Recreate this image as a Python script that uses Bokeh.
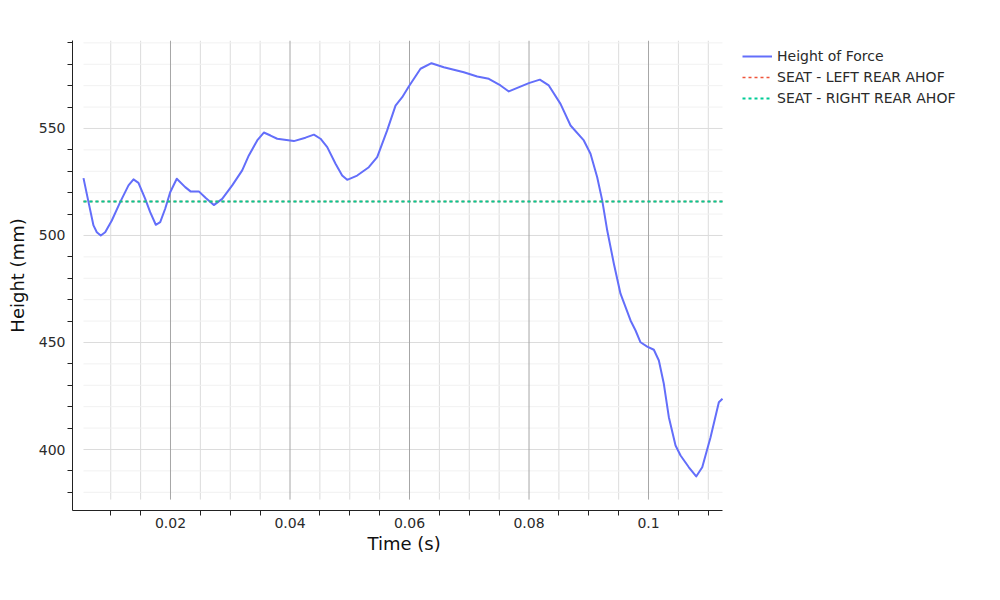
from bokeh.plotting import figure
from bokeh.models import Range1d, FixedTicker, Legend, LegendItem, NumeralTickFormatter, Title
from bokeh.embed import file_html
from bokeh.resources import INLINE

# ---- data ----
time_s = [0.00544, 0.00628, 0.00711, 0.00767, 0.00833, 0.00907, 0.01018, 0.01158, 0.01297,
          0.01381, 0.01464, 0.01577, 0.0166, 0.01754, 0.01828, 0.01911, 0.01995, 0.02105,
          0.02246, 0.02335, 0.02474, 0.02586, 0.02725, 0.02865, 0.03033, 0.0320, 0.03311,
          0.03451, 0.03562, 0.03674, 0.03786, 0.04064, 0.04259, 0.0440, 0.0451, 0.04623,
          0.04762, 0.04873, 0.04957, 0.05124, 0.05319, 0.05459, 0.05626, 0.05766, 0.05878,
          0.05988, 0.06184, 0.06368, 0.06574, 0.06741, 0.06909, 0.07133, 0.07327, 0.07523,
          0.07662, 0.07997, 0.08181, 0.08331, 0.08527, 0.08695, 0.08917, 0.09029, 0.09141,
          0.09225, 0.09309, 0.0942, 0.09531, 0.09699, 0.09783, 0.09866, 0.09978, 0.10089,
          0.10173, 0.10256, 0.1034, 0.10452, 0.10536, 0.10675, 0.10798, 0.10899, 0.11038,
          0.11177, 0.11238]
height_mm = [526.8, 515.6, 504.7, 501.5, 500.0, 501.5, 507.0, 515.6, 523.4,
             526.2, 524.6, 517.1, 510.9, 505.0, 506.2, 512.5, 520.2, 526.5,
             522.6, 520.6, 520.6, 517.6, 514.2, 517.1, 523.4, 530.4, 537.4,
             544.4, 548.1, 546.7, 545.2, 544.1, 545.7, 547.1, 545.2, 541.3,
             533.5, 528.0, 526.0, 528.0, 531.9, 536.6, 549.1, 560.7, 564.6,
             569.6, 577.9, 580.5, 578.6, 577.4, 576.3, 574.3, 573.2, 570.1,
             567.3, 571.2, 572.8, 570.1, 561.5, 551.4, 544.4, 538.2, 527.2,
             516.4, 502.3, 486.8, 472.8, 460.3, 455.6, 450.1, 448.1, 446.6,
             441.6, 430.7, 415.1, 401.9, 397.2, 391.7, 387.4, 391.7, 405.7,
             422.1, 423.7]
ahof_left_mm = 515.9
ahof_right_mm = 515.9

series_names = ["Height of Force", "SEAT - LEFT REAR AHOF", "SEAT - RIGHT REAR AHOF"]

x_major_ticks = [0.02, 0.04, 0.06, 0.08, 0.1]
x_minor_ticks = [0.01, 0.015, 0.025, 0.03, 0.035, 0.045, 0.05, 0.055, 0.065, 0.07, 0.075,
                 0.085, 0.09, 0.095, 0.105, 0.11]
y_major_ticks = [400, 450, 500, 550]
y_minor_ticks = [380, 390, 410, 420, 430, 440, 460, 470, 480, 490, 510, 520, 530, 540,
                 560, 570, 580, 590]

x_axis_range = (0.0036, 0.11238)     # extent of the drawn x axis
x_view_end = 0.15723                 # frame continues to the right to hold the legend
y_axis_range = (371.5, 591.1)
x_plot_start = 0.00544
y_plot_start = 376.6

FONT = "DejaVu Sans"

p = figure(width=990, height=590,
           x_range=Range1d(x_axis_range[0], x_view_end), y_range=Range1d(*y_axis_range),
           output_backend="svg", toolbar_location=None,
           min_border_left=72, min_border_right=0, min_border_top=40, min_border_bottom=80)
p.outline_line_color = None
p.background_fill_color = "white"
p.border_fill_color = "white"
p.grid.visible = False

# axes
p.xaxis.bounds = x_axis_range
p.xaxis.ticker = FixedTicker(ticks=x_major_ticks, minor_ticks=x_minor_ticks)
p.yaxis.ticker = FixedTicker(ticks=y_major_ticks, minor_ticks=y_minor_ticks)
p.xaxis.formatter = NumeralTickFormatter(format="0.[00]")
for ax in (p.xaxis[0], p.yaxis[0]):
    ax.axis_line_color = "#222222"
    ax.axis_line_width = 1
    ax.major_tick_line_color = None
    ax.major_tick_out = 0
    ax.major_tick_in = 0
    ax.minor_tick_line_color = "#222222"
    ax.minor_tick_out = 5
    ax.minor_tick_in = 0
    ax.major_label_text_font = FONT
    ax.major_label_text_font_size = "14px"
    ax.major_label_text_color = "#2a2a2a"
    ax.axis_label_text_font = FONT
    ax.axis_label_text_font_size = "18px"
    ax.axis_label_text_font_style = "normal"
    ax.axis_label_text_color = "#111111"
p.yaxis.axis_label = "Height (mm)"
p.xaxis.major_label_standoff = 2
p.yaxis.major_label_standoff = 2
p.yaxis.axis_label_standoff = 8

# x axis title, centred under the plotting area rather than the whole frame
p.add_layout(Title(text="Time (s)", align="left", offset=295, vertical_align="top",
                   standoff=5, text_font=FONT, text_font_size="18px",
                   text_font_style="normal", text_color="#111111"), "below")

# grid lines, limited to the plotting area (axes sit slightly apart from it)
y_top = y_axis_range[1]
x_end = time_s[-1]
p.segment(x0=x_minor_ticks, y0=[y_plot_start] * len(x_minor_ticks),
          x1=x_minor_ticks, y1=[y_top] * len(x_minor_ticks),
          line_color="#dcdcdc", line_width=1)
p.segment(x0=[x_plot_start] * len(y_minor_ticks), y0=y_minor_ticks,
          x1=[x_end] * len(y_minor_ticks), y1=y_minor_ticks,
          line_color="#f1f1f1", line_width=1)
p.segment(x0=[x_plot_start] * len(y_major_ticks), y0=y_major_ticks,
          x1=[x_end] * len(y_major_ticks), y1=y_major_ticks,
          line_color="#dcdcdc", line_width=1)
p.segment(x0=x_major_ticks, y0=[y_plot_start] * len(x_major_ticks),
          x1=x_major_ticks, y1=[y_top] * len(x_major_ticks),
          line_color="#a6a6a6", line_width=1)

r_force = p.line(time_s, height_mm, line_color="#636efa", line_width=2, line_join="round")
r_left = p.line([time_s[0], time_s[-1]], [ahof_left_mm, ahof_left_mm],
                line_color="#ef553b", line_width=1.5, line_dash="3 3")
r_right = p.line([time_s[0], time_s[-1]], [ahof_right_mm, ahof_right_mm],
                 line_color="#00cc96", line_width=2, line_dash="3 3")

legend = Legend(items=[LegendItem(label=series_names[0], renderers=[r_force]),
                       LegendItem(label=series_names[1], renderers=[r_left]),
                       LegendItem(label=series_names[2], renderers=[r_right])],
                location=(670, 402))
legend.border_line_color = None
legend.background_fill_alpha = 0
legend.padding = 0
legend.margin = 0
legend.spacing = 1
legend.glyph_width = 30
legend.glyph_height = 20
legend.label_height = 20
legend.label_standoff = 5
legend.label_text_font = FONT
legend.label_text_font_size = "14px"
legend.label_text_color = "#2a2a2a"
p.add_layout(legend)

open("out.html", "w").write(file_html(p, INLINE))
